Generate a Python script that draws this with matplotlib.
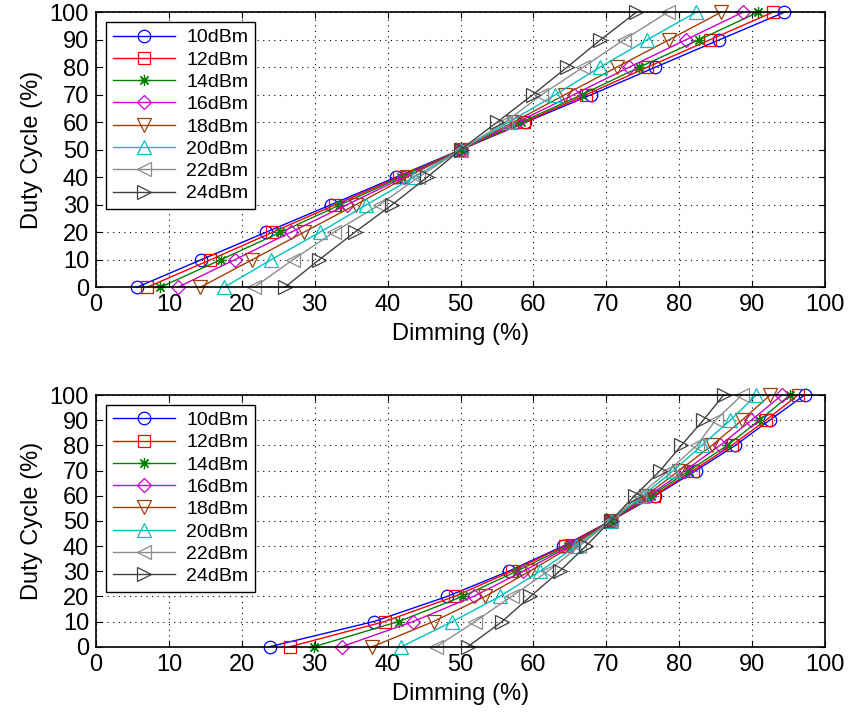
import numpy as np
import matplotlib
matplotlib.use('Agg')
import matplotlib.pyplot as plt

plt.rcParams['font.family'] = ['Liberation Sans', 'DejaVu Sans']

# duty cycle levels (y) shared by every curve
duty = [0, 10, 20, 30, 40, 50, 60, 70, 80, 90, 100]
labels = ['10dBm', '12dBm', '14dBm', '16dBm', '18dBm', '20dBm', '22dBm', '24dBm']

# top panel: dimming (%) for each power
top_10 = [5.6, 14.4, 23.3, 32.2, 41.1, 50, 58.9, 67.9, 76.7, 85.5, 94.4]
top_12 = [7.0, 15.7, 24.2, 32.8, 41.5, 50, 58.7, 67.2, 75.6, 84.2, 92.8]
top_14 = [8.8, 17.1, 25.3, 33.5, 41.8, 50, 58.3, 66.6, 74.5, 82.7, 90.8]
top_16 = [11.2, 19.0, 26.7, 34.4, 42.2, 50, 57.7, 65.5, 73.1, 80.9, 88.7]
top_18 = [14.3, 21.4, 28.5, 35.6, 42.6, 50, 57.2, 64.3, 71.4, 78.6, 85.7]
top_20 = [17.6, 24.0, 30.7, 37.1, 43.6, 50, 56.6, 63.0, 69.1, 75.6, 82.3]
top_22 = [21.7, 27.0, 32.6, 38.9, 44.2, 50, 56.1, 61.1, 66.8, 72.4, 78.4]
top_24 = [25.9, 30.6, 35.5, 40.6, 45.4, 50, 55.0, 59.9, 64.6, 69.2, 74.1]

# bottom panel
bot_10 = [23.8, 38.1, 48.2, 56.6, 64.1, 70.6, 76.7, 82.3, 87.7, 92.4, 97.2]
bot_12 = [26.6, 39.6, 49.2, 57.0, 64.3, 70.6, 76.5, 81.9, 87.2, 91.9, 96.3]
bot_14 = [29.9, 41.5, 50.3, 57.7, 64.7, 70.6, 76.1, 81.4, 86.6, 91.0, 95.2]
bot_16 = [33.7, 43.5, 51.8, 58.6, 65.0, 70.6, 75.8, 80.8, 85.6, 89.9, 94.1]
bot_18 = [37.9, 46.3, 53.4, 59.5, 65.3, 70.6, 75.4, 80.0, 84.5, 88.6, 92.5]
bot_20 = [41.9, 48.9, 55.4, 60.9, 65.9, 70.6, 75.0, 79.2, 83.1, 87.0, 90.6]
bot_22 = [46.7, 52.0, 57.0, 62.0, 66.3, 70.6, 74.5, 78.6, 82.4, 85.0, 88.6]
bot_24 = [51.0, 55.7, 59.6, 63.6, 67.2, 70.6, 73.9, 77.4, 80.3, 83.3, 86.1]

top_data = [top_10, top_12, top_14, top_16, top_18, top_20, top_22, top_24]
bot_data = [bot_10, bot_12, bot_14, bot_16, bot_18, bot_20, bot_22, bot_24]

colors = ['#0000ff', '#ff0000', '#008000', '#cc00cc', '#a0400a', '#00c0c0', '#8c8c8c', '#404040']
markers = ['o', 's', (8, 2, 0), 'D', 'v', '^', '<', '>']
msizes = [9, 8.5, 8, 7, 9.5, 9.5, 9.5, 9.5]

fig = plt.figure(figsize=(8.48, 7.12), dpi=100)
ax1 = fig.add_axes([0.1132, 0.5965, 0.8597, 0.3862])
ax2 = fig.add_axes([0.1132, 0.0917, 0.8597, 0.3535])

for ax, data in [(ax1, top_data), (ax2, bot_data)]:
    for i in range(len(data)):
        ax.plot(data[i], duty, color=colors[i], marker=markers[i], markersize=msizes[i],
                markerfacecolor='none', markeredgewidth=0.9, linewidth=1.0,
                label=labels[i], clip_on=False)
    ax.set_xlim(0, 100)
    ax.set_ylim(0, 100)
    ax.set_xticks(np.arange(0, 101, 10))
    ax.set_yticks(np.arange(0, 101, 10))
    ax.grid(True, linestyle=(0, (1, 4)), color='black', linewidth=0.8)
    ax.tick_params(direction='in', top=True, right=True, labelsize=17, length=4, pad=5)
    for s in ax.spines.values():
        s.set_linewidth(1.2)
    ax.set_xlabel('Dimming (%)', fontsize=17, labelpad=5)
    ax.set_ylabel('Duty Cycle (%)', fontsize=17, labelpad=5)
    leg = ax.legend(loc='upper left', fontsize=14, handlelength=3.2, labelspacing=0.24,
                    fancybox=False, edgecolor='black', framealpha=1,
                    borderaxespad=0.5, handletextpad=0.6, borderpad=0.35)
    leg.get_frame().set_linewidth(1.0)

fig.savefig('out.png', dpi=100)
